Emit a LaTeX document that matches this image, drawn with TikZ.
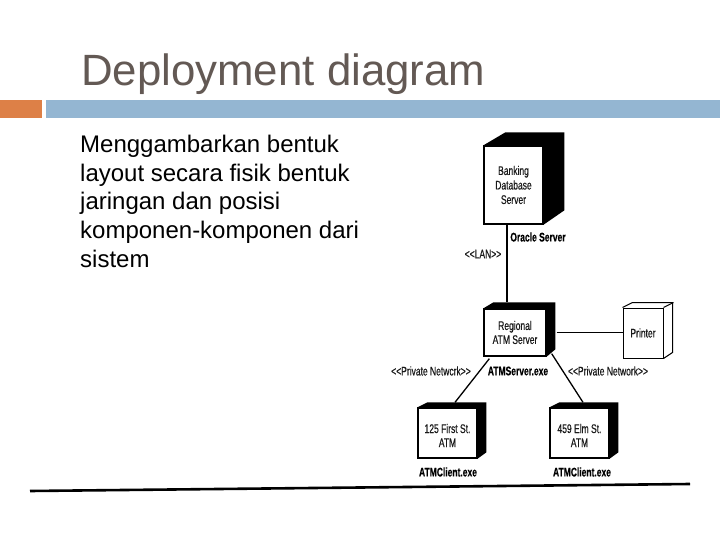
\documentclass[tikz,border=0pt]{standalone}
\usepackage{fontspec}
\setmainfont{Liberation Sans}
\newfontfamily\nar[FakeStretch=0.68,FakeBold=0.4]{Liberation Sans}
\definecolor{titlecol}{RGB}{99,89,84}
\definecolor{barorange}{RGB}{221,128,71}
\definecolor{barblue}{RGB}{148,182,210}
\tikzset{
  cubefront/.style={draw, line width=1.3pt, fill=white, inner sep=0pt, align=center,
    font=\nar\fontsize{12.5}{14}\selectfont, text=black!90},
  lbl/.style={inner sep=0pt, font=\nar\fontsize{12.5}{14}\selectfont, text=black!90},
  lblb/.style={inner sep=0pt, font=\nar\bfseries\fontsize{12.5}{14}\selectfont, text=black},
  conn/.style={line width=1.3pt, black},
  bodytext/.style={anchor=base west, inner sep=0pt, font=\fontsize{24}{28}\selectfont, text=black},
}
\begin{document}
\begin{tikzpicture}[x=1pt,y=-1pt]
\useasboundingbox (0,0) rectangle (720,540);
% title and bars
\node[anchor=base west, inner sep=0pt, text=titlecol, font=\fontsize{43.8}{50}\selectfont] (title) at (81,86) {Deployment diagram};
\fill[barorange] (0,100) rectangle (42,118);
\fill[barblue] (46,100) rectangle (720,118);
% body text
\node[bodytext] (b1) at (80,153) {Menggambarkan bentuk};
\node[bodytext] (b2) at (80,181.5) {layout secara fisik bentuk};
\node[bodytext] (b3) at (80,210) {jaringan dan posisi};
\node[bodytext] (b4) at (80,238.5) {komponen-komponen dari};
\node[bodytext] (b5) at (80,267) {sistem};
% nodes (front faces)
\node[cubefront, minimum width=59pt, minimum height=78pt] (bank) at (513.5,185) {Banking\\[0.5pt]Database\\[0.5pt]Server};
\fill (bank.north west) -- ++(22,-13) -- ++(59,0) -- ++(0,78) -- (bank.south east) -- (bank.north east) -- cycle;
\node[cubefront, minimum width=62pt, minimum height=47pt] (reg) at (515,332.5) {Regional\\ATM Server};
\fill (reg.north west) -- ++(10,-6) -- ++(62,0) -- ++(0,47) -- (reg.south east) -- (reg.north east) -- cycle;
\node[cubefront, line width=1pt, minimum width=40pt, minimum height=50pt] (printer) at (643,333) {Printer};
\draw[line width=1pt] (printer.north west) -- ++(10,-5) -- ++(40,0) -- ++(0,50) -- (printer.south east);
\draw[line width=1pt] (printer.north east) -- ++(10,-5);
\node[cubefront, minimum width=59pt, minimum height=50pt] (c1) at (447.5,433) {\rule{0pt}{14pt}125 First St.\\ATM};
\fill (c1.north west) -- ++(10,-5) -- ++(59,0) -- ++(0,50) -- (c1.south east) -- (c1.north east) -- cycle;
\node[cubefront, minimum width=59pt, minimum height=50pt] (c2) at (579.5,433) {\rule{0pt}{14pt}459 Elm St.\\ATM};
\fill (c2.north west) -- ++(10,-5) -- ++(59,0) -- ++(0,50) -- (c2.south east) -- (c2.north east) -- cycle;
% connectors
\draw[conn, line width=1.1pt] ([xshift=-6.5pt]bank.south) -- ([xshift=-8pt,yshift=6pt]reg.north);
\draw[conn] ([xshift=10pt]reg.east) -- (reg.east -| printer.west);
\draw[conn] ([xshift=6pt,yshift=-2pt]reg.south west) -- ([xshift=7.5pt,yshift=5pt]c1.north);
\draw[conn] ([xshift=5pt,yshift=3pt]reg.south east) -- ([xshift=3.5pt,yshift=5pt]c2.north);
% labels
\node[lblb] (oracle) at (538,237) {Oracle Server};
\node[lbl] (lan) at (483,254) {<\kern0pt<LAN>\kern0pt>};
\node[lbl] (pn1) at (431,371) {<\kern0pt<Private Netwcrk>\kern0pt>};
\node[lblb] (srvexe) at (518,371) {ATMServer.exe};
\node[lbl] (pn2) at (608,371) {<\kern0pt<Private Network>\kern0pt>};
\node[lblb] (exe1) at (448,472) {ATMClient.exe};
\node[lblb] (exe2) at (582,472) {ATMClient.exe};
% bottom rule
\draw[line width=2.6pt] (30,491) -- (690,484);
\end{tikzpicture}
\end{document}
